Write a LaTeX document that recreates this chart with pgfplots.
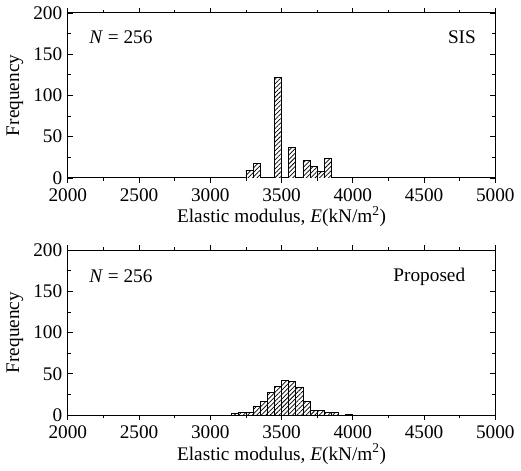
\documentclass[border=0pt]{standalone}
\usepackage{fontspec}
\setmainfont{Liberation Serif}
\usepackage{pgfplots}
\pgfplotsset{compat=1.18}
\usetikzlibrary{patterns.meta}
\begin{document}
\fontsize{19.5}{23}\selectfont
\begin{tikzpicture}
\pgfplotsset{
  hist/.style={
    scale only axis,
    width=432.7pt, height=167pt,
    xmin=2000, xmax=5000, ymin=0, ymax=200,
    xtick={2000,2500,...,5000},
    xticklabels={\textrm{2000},\textrm{2500},\textrm{3000},\textrm{3500},\textrm{4000},\textrm{4500},\textrm{5000}},
    ytick={0,50,...,200},
    yticklabels={\textrm{0},\textrm{50},\textrm{100},\textrm{150},\textrm{200}},
    minor x tick num=1,
    minor y tick num=1,
    tick align=inside,
    major tick length=5pt,
    minor tick length=3pt,
    axis line style={line width=0.9pt},
    every tick/.style={line width=0.8pt, black},
    tick label style={font=\rmfamily\fontsize{19.5}{23}\selectfont},
    xticklabel style={yshift=1pt},
    yticklabel style={xshift=1pt},
    label style={font=\rmfamily\fontsize{19.5}{23}\selectfont},
    xlabel={Elastic modulus, \textit{E}(kN/m\textsuperscript{2})},
    ylabel={Frequency},
    xlabel style={yshift=8pt},
    ylabel style={yshift=-3pt},
    ybar, bar width=7.21pt,
  },
  hbar/.style={draw=black, line width=0.8pt, fill=white, postaction={pattern={Lines[angle=45,distance=3.2pt,line width=0.75pt]}}},
}
\begin{axis}[hist, at={(0,0)}, anchor=north west]
\addplot[hbar] coordinates {
(3125,1) (3175,1) (3275,9) (3325,18) (3475,122) (3575,37) (3675,21) (3725,14) (3775,8) (3825,24)
};
\node[anchor=west] at (rel axis cs:0.035,0.85) {\textit{N} = 256};
\node[anchor=east] at (rel axis cs:0.97,0.85) {SIS};
\end{axis}
\begin{axis}[hist, at={(0,-240pt)}, anchor=north west]
\addplot[hbar] coordinates {
(3175,2) (3225,3) (3275,3) (3325,10) (3375,17) (3425,27) (3475,35) (3525,42) (3575,41) (3625,34) (3675,17) (3725,6) (3775,6) (3825,3) (3875,3) (3975,1)
};
\node[anchor=west] at (rel axis cs:0.035,0.84) {\textit{N} = 256};
\node[anchor=east] at (rel axis cs:0.945,0.84) {Proposed};
\end{axis}
\end{tikzpicture}
\end{document}
